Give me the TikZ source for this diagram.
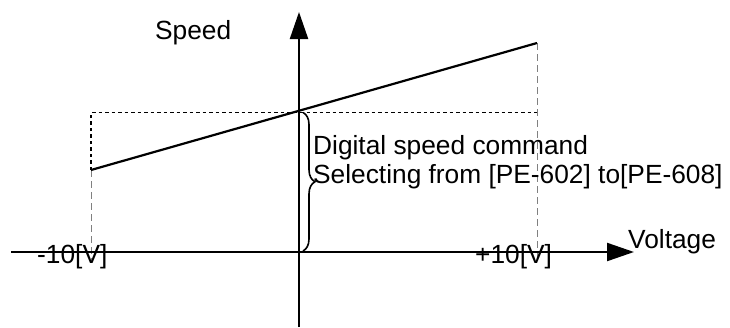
\documentclass[tikz,border=0pt]{standalone}
\usepackage{fontspec}
\setmainfont{Liberation Sans}
\usetikzlibrary{arrows.meta,decorations.pathreplacing}
\begin{document}
\begin{tikzpicture}[x=1pt,y=-1pt,
  axis/.style={line width=2.2pt,-{Triangle[length=27pt,width=18pt]}},
  graphline/.style={line width=2.2pt},
  dotline/.style={line width=1.8pt,dash pattern=on 3.5pt off 3pt},
  guide/.style={line width=1pt,gray,dash pattern=on 7pt off 4pt},
  lbl/.style={font=\fontsize{26.3}{30}\selectfont,inner sep=0pt,anchor=base west}]
\useasboundingbox (0,0) rectangle (730,327);
\coordinate (o) at (299,252);
\coordinate (xs) at (11,252);
\coordinate (xe) at (634,252);
\coordinate (ys) at (299,327);
\coordinate (ye) at (299,12);
\coordinate (lp) at (91,170);
\coordinate (rp) at (537,43);
\coordinate (lt) at (91,112.5);
\coordinate (c0) at (299,112.5);
\coordinate (rt) at (537,112.5);
\coordinate (lb) at (91,262);
\coordinate (rb) at (537,262);
\coordinate (bt) at (303,112.5);
\coordinate (bb) at (303,251);
% guides
\draw[guide] (lp) -- (lb);
\draw[guide] (rp) -- (rb);
\draw[dotline] (lp) -- (lt) -- (rt);
% axes
\draw[axis] (xs) -- (xe);
\draw[axis] (ys) -- (ye);
% graph
\draw[graphline] (lp) -- (rp);
% brace
\draw[line width=1.6pt,decorate,decoration={brace,amplitude=12pt}] (bt) -- (bb);
% labels
\node[lbl] (speed) at (155,39) {Speed};
\node[lbl] (volt) at (628,248) {Voltage};
\node[lbl] (m10) at (37,263) {-10[V]};
\node[lbl] (p10) at (475,263) {+10[V]};
\node[lbl] (t1) at (313,154) {Digital speed command};
\node[lbl] (t2) at (313,183) {Selecting from [PE-602] to[PE-608]};
\end{tikzpicture}
\end{document}
